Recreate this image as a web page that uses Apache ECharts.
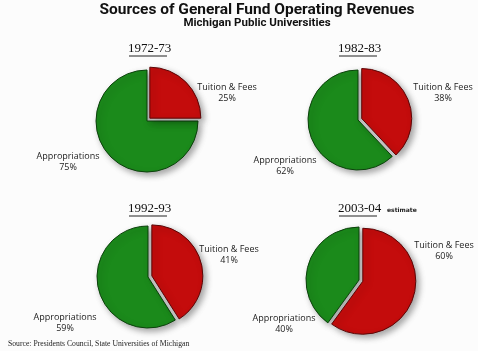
<!DOCTYPE html>
<html><head><meta charset="utf-8">
<script src="https://cdn.jsdelivr.net/npm/echarts@6/dist/echarts.min.js"></script>
<style>html,body{margin:0;padding:0;background:#fcfcfc}#c{width:478px;height:351px}</style>
</head><body><div id="c"></div>
<script>
const years = ['1972-73', '1982-83', '1992-93', '2003-04'];
const categories = ['Tuition & Fees', 'Appropriations'];
const tuition = [25, 38, 41, 60];
const appropriations = [75, 62, 59, 40];

const colors = ['#c40c0c', '#1b8a1b'];
const borders = ['#5c0606', '#0c420c'];
const centers = [[147, 121], [358, 120], [148, 277], [359, 280]];
const radii = [51, 50, 51, 53];
const labelPos = [
  [[227, 93], [68, 162]],
  [[443, 93], [285, 166]],
  [[229, 255], [65, 323]],
  [[444, 251], [284, 324]]
];
const yearPos = [[148, 50], [358, 50], [148, 210], [358, 210]];

const series = years.map((y, i) => ({
  type: 'pie',
  center: centers[i],
  radius: radii[i],
  startAngle: 90,
  clockwise: true,
  selectedMode: 'single',
  selectedOffset: 4,
  animation: false,
  silent: true,
  data: [
    { name: categories[0], value: tuition[i], selected: true,
      itemStyle: { color: colors[0], borderColor: borders[0] } },
    { name: categories[1], value: appropriations[i],
      itemStyle: { color: colors[1], borderColor: borders[1] } }
  ],
  itemStyle: { borderWidth: 1, shadowBlur: 6, shadowOffsetX: 3, shadowOffsetY: 3, shadowColor: 'rgba(0,0,0,0.35)' },
  label: { show: false },
  labelLine: { show: false }
}));

const graphics = [];
years.forEach((y, i) => {
  graphics.push({ type: 'text', left: yearPos[i][0] - 20, top: yearPos[i][1] - 8,
    style: { text: y, font: '13px "Liberation Serif"', fill: '#111', textAlign: 'left' } });
  graphics.push({ type: 'line', shape: { x1: yearPos[i][0] - 19, y1: yearPos[i][1] + 6, x2: yearPos[i][0] + 19, y2: yearPos[i][1] + 6 },
    style: { stroke: '#222', lineWidth: 1 } });
  const vals = [tuition[i], appropriations[i]];
  categories.forEach((c, k) => {
    graphics.push({ type: 'text', x: labelPos[i][k][0], y: labelPos[i][k][1], z: 100,
      style: { text: c + '\n' + vals[k] + '%', font: '9px "Open Sans"', fill: '#222',
        align: 'center', verticalAlign: 'middle', lineHeight: 11 } });
  });
});
graphics.push({ type: 'text', left: 387, top: 207, style: { text: 'estimate', font: 'bold 6px "DejaVu Sans"', fill: '#222' } });
graphics.push({ type: 'text', left: 8, top: 340, style: { text: 'Source: Presidents Council, State Universities of Michigan', font: '7.7px "Liberation Serif"', fill: '#222' } });
graphics.push({ type: 'text', x: 257, y: 10, style: { text: 'Sources of General Fund Operating Revenues', font: 'bold 15.5px Roboto', fill: '#111', align: 'center', verticalAlign: 'middle' } });
graphics.push({ type: 'text', x: 257, y: 23, style: { text: 'Michigan Public Universities', font: 'bold 11.5px Roboto', fill: '#111', align: 'center', verticalAlign: 'middle' } });

const chart = echarts.init(document.getElementById('c'), null, { renderer: 'canvas' });
chart.setOption({
  backgroundColor: '#fcfcfc',
  series: series,
  graphic: graphics
});
</script>
</body></html>
